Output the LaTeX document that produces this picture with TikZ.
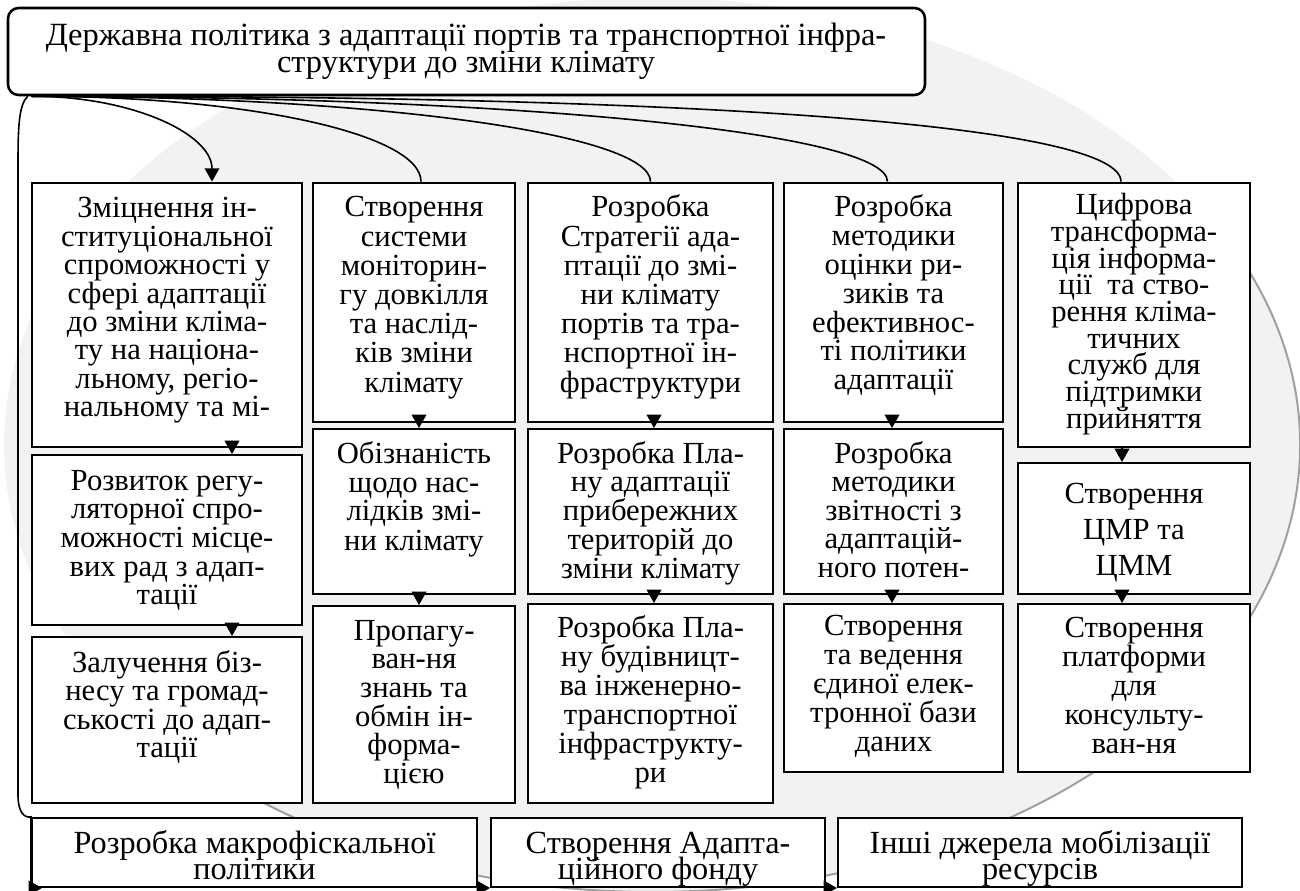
\documentclass[tikz,border=0pt]{standalone}
\usepackage{fontspec}
\setmainfont{Liberation Serif}
\usetikzlibrary{arrows.meta,fit,calc}
\definecolor{bggray}{RGB}{242,242,242}
\definecolor{arcgray}{RGB}{160,160,160}
\tikzset{
  thickbox/.style={draw=black, line width=2.1pt, fill=white, inner sep=0pt},
  thinbox/.style={draw=black, line width=1.5pt, fill=white, inner sep=0pt},
  titlebox/.style={draw=black, line width=1.9pt, fill=white, inner sep=0pt, rounded corners=8pt},
  conn/.style={draw=black, line width=1.2pt},
  arr/.style={conn, -{Triangle[width=11pt,length=10pt]}},
  txt/.style={inner sep=0pt, anchor=base},
}
\newcommand\cfs{23}
\newcommand\cellbox[9]{%
  \node[#6, fit={(#2,#3)(#4,#5)}] (#1) {};
  \node[txt] (#1t) at ({(#2+#4)/2},#7) {\parbox[t]{700pt}{\centering\fontsize{\cfs}{#8}\selectfont\lineskiplimit=-50pt #9}};
}
\begin{document}
\begin{tikzpicture}[x=0.75pt,y=-0.75pt]
\useasboundingbox (0,0) rectangle (1300,891);
% background ellipse
\fill[bggray] (652,445) ellipse [x radius=648, y radius=447];
\draw[arcgray, line width=1.5pt] ({652+648*cos(-26)},{445+447*sin(-26)}) arc[start angle=-26, end angle=127, x radius=648, y radius=447];

% title
\node[titlebox, fit={(8,8)(925,95)}] (top) {};
\node[txt] (topt) at (466,46) {\parbox[t]{700pt}{\centering\fontsize{24.3}{20.25}\selectfont\lineskiplimit=-50pt Державна політика з адаптації портів та транспортної інфра-\\структури до зміни клімату}};

% column 1
\cellbox{c1r1}{32}{183}{302}{447}{thickbox}{218}{21.3}{Зміцнення ін-\\ституціональної\\спроможності у\\сфері адаптації\\до зміни кліма-\\ту на націона-\\льному, регіо-\\нальному та мі-}
\cellbox{c1r2}{32}{455}{302}{625}{thinbox}{490}{21.5}{Розвиток регу-\\ляторної спро-\\можності місце-\\вих рад з адап-\\тації}
\cellbox{c1r3}{32}{637}{302}{803}{thinbox}{672}{21.4}{Залучення біз-\\несу та громад-\\ськості до адап-\\тації}
% column 2
\cellbox{c2r1}{313}{183}{515}{422}{thickbox}{217}{21.9}{Створення\\системи\\моніторин-\\гу довкілля\\та наслід-\\ків зміни\\клімату}
\cellbox{c2r2}{313}{429}{515}{594}{thinbox}{463}{21.75}{Обізнаність\\щодо нас-\\лідків змі-\\ни клімату}
\cellbox{c2r3}{313}{606}{515}{803}{thinbox}{640}{21.5}{Пропагу-\\ван-ня\\знань та\\обмін ін-\\форма-\\цією}
% column 3
\cellbox{c3r1}{528}{183}{773}{422}{thickbox}{217}{21.9}{Розробка\\Стратегії ада-\\птації до змі-\\ни клімату\\портів та тра-\\нспортної ін-\\фраструктури}
\cellbox{c3r2}{528}{429}{773}{594}{thinbox}{463}{21.6}{Розробка Пла-\\ну адаптації\\прибережних\\територій до\\зміни клімату}
\cellbox{c3r3}{528}{604}{773}{803}{thinbox}{637}{21.75}{Розробка Пла-\\ну будівницт-\\ва інженерно-\\транспортної\\інфраструкту-\\ри}
% column 4
\cellbox{c4r1}{784}{183}{1003}{422}{thickbox}{217}{21.6}{Розробка\\методики\\оцінки ри-\\зиків та\\ефективнос-\\ті політики\\адаптації}
\cellbox{c4r2}{784}{429}{1003}{594}{thinbox}{463}{21.4}{Розробка\\методики\\звітності з\\адаптацій-\\ного потен-}
\cellbox{c4r3}{784}{604}{1003}{772}{thinbox}{635}{21.75}{Створення\\та ведення\\єдиної елек-\\тронної бази\\даних}
% column 5
\cellbox{c5r1}{1018}{183}{1250}{447}{thickbox}{215}{20}{Цифрова\\трансформа-\\ція інформа-\\ції\ \ та ство-\\рення кліма-\\тичних\\служб для\\підтримки\\прийняття}
\cellbox{c5r2}{1018}{463}{1250}{594}{thinbox}{503}{27}{Створення\\ЦМР та\\ЦММ}
\cellbox{c5r3}{1018}{604}{1250}{772}{thinbox}{637}{21.75}{Створення\\платформи\\для\\консульту-\\ван-ня}
% bottom row
\renewcommand\cfs{24.2}
\cellbox{b1}{32}{818}{477}{887}{thinbox}{853}{19.5}{Розробка макрофіскальної\\політики}
\cellbox{b2}{491}{818}{825}{887}{thinbox}{853}{19.5}{Створення Адапта-\\ційного фонду}
\cellbox{b3}{838}{818}{1242}{887}{thinbox}{853}{19.5}{Інші джерела мобілізації\\ресурсів}

% curved connectors from title
\draw[arr] ($(top.south west)+(25,0)$) .. controls (131,96) and ($(c1r1.north)+(45,-48)$) .. ($(c1r1.north)+(45,0)$);
\draw[conn] ($(top.south west)+(25,0)$) .. controls (246,96) and ($(c2r1.north)+(7,-48)$) .. ($(c2r1.north)+(7,0)$);
\draw[conn] ($(top.south west)+(25,0)$) .. controls (372,96) and ($(c3r1.north)+(0,-48)$) .. ($(c3r1.north)+(0,0)$);
\draw[conn] ($(top.south west)+(25,0)$) .. controls (503,96) and ($(c4r1.north)+(-6,-50)$) .. ($(c4r1.north)+(-6,0)$);
\draw[conn] ($(top.south west)+(25,0)$) .. controls (686,95) and ($(c5r1.north)+(-13,-58)$) .. ($(c5r1.north)+(-13,0)$);
% left connector to bottom row
\draw[arr] ($(top.south west)+(21,0)$) .. controls (19,105) and (18,125) .. (18,165) -- (18,795) .. controls (18,812) and (24,818) .. (b1.north west) -- (b1.south west) -- ($(b1.south west)+(11,0)$);
\draw[arr] (b1.south east) -- (b2.south west);
\draw[arr] (b2.south east) -- (b3.south west);

% arrows between rows
\draw[arr] ($(c1r1.south)+(65,0)$) -- ($(c1r2.north)+(65,0)$);
\draw[arr] ($(c1r2.south)+(65,0)$) -- ($(c1r3.north)+(65,0)$);
\draw[arr] ($(c2r1.south)+(5,0)$) -- ($(c2r2.north)+(5,0)$);
\draw[arr] ($(c2r2.south)+(5,0)$) -- ($(c2r3.north)+(5,0)$);
\draw[arr] ($(c3r1.south)+(3.5,0)$) -- ($(c3r2.north)+(3.5,0)$);
\draw[arr] ($(c3r2.south)+(3.5,0)$) -- ($(c3r3.north)+(3.5,0)$);
\draw[arr] ($(c4r1.south)+(-1.5,0)$) -- ($(c4r2.north)+(-1.5,0)$);
\draw[arr] ($(c4r2.south)+(-1.5,0)$) -- ($(c4r3.north)+(-1.5,0)$);
\draw[arr] ($(c5r1.south)+(-12,0)$) -- ($(c5r2.north)+(-12,0)$);
\draw[arr] ($(c5r2.south)+(-12,0)$) -- ($(c5r3.north)+(-12,0)$);
\end{tikzpicture}
\end{document}
